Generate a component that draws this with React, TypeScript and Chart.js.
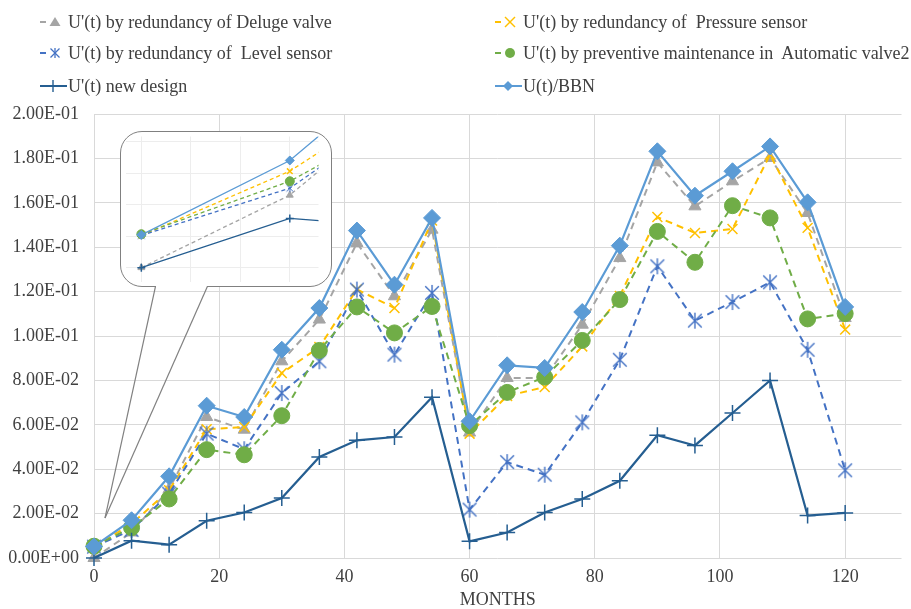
import React, { useEffect, useRef } from 'react';
import { Chart, registerables } from 'chart.js';
Chart.register(...registerables);

const months = [0, 6, 12, 18, 24, 30, 36, 42, 48, 54, 60, 66, 72, 78, 84, 90, 96, 102, 108, 114, 120];
const delugeValve = [0.0, 0.0115, 0.031, 0.0635, 0.0578, 0.0886, 0.1074, 0.1419, 0.1179, 0.1479, 0.0565, 0.0811, 0.081, 0.1051, 0.1351, 0.1782, 0.1584, 0.1697, 0.1802, 0.1554, 0.1081];
const pressureSensor = [0.0051, 0.0153, 0.0305, 0.058, 0.059, 0.0833, 0.095, 0.121, 0.1126, 0.152, 0.056, 0.073, 0.077, 0.0953, 0.118, 0.1536, 0.1464, 0.1482, 0.1817, 0.1487, 0.1029];
const levelSensor = [0.0051, 0.0126, 0.029, 0.056, 0.049, 0.0743, 0.0886, 0.1209, 0.0916, 0.1194, 0.0218, 0.0432, 0.0375, 0.0611, 0.0893, 0.1314, 0.1069, 0.1153, 0.1242, 0.0938, 0.0395];
const automaticValve2 = [0.0053, 0.0137, 0.0266, 0.0488, 0.0465, 0.0641, 0.0935, 0.1131, 0.1014, 0.1133, 0.0596, 0.0746, 0.0815, 0.098, 0.1164, 0.1471, 0.1332, 0.1587, 0.1532, 0.1077, 0.1101];
const newDesign = [0.0, 0.0078, 0.006, 0.0168, 0.0205, 0.027, 0.0455, 0.053, 0.0545, 0.0724, 0.0075, 0.0115, 0.0205, 0.0266, 0.0348, 0.0553, 0.0507, 0.0653, 0.08, 0.0191, 0.0203];
const bbn = [0.0052, 0.017, 0.0368, 0.0686, 0.0635, 0.0938, 0.1126, 0.1475, 0.1231, 0.1532, 0.0616, 0.0868, 0.0856, 0.1108, 0.1407, 0.1832, 0.1632, 0.1742, 0.1854, 0.1602, 0.1131];

const xTicks = [0, 20, 40, 60, 80, 100, 120];
const yTicks = [0, 0.02, 0.04, 0.06, 0.08, 0.1, 0.12, 0.14, 0.16, 0.18, 0.2];
const insetXTicks = [0, 2, 4, 6];
const insetYTicks = [0, 0.005, 0.01, 0.015, 0.02];

const seriesLabels = [
  "U'(t) by redundancy of Deluge valve",
  "U'(t) by redundancy of  Pressure sensor",
  "U'(t) by redundancy of  Level sensor",
  "U'(t) by preventive maintenance in  Automatic valve2",
  "U'(t) new design",
  "U(t)/BBN",
];
const seriesData = [delugeValve, pressureSensor, levelSensor, automaticValve2, newDesign, bbn];

type Style = { color: string; dashed: boolean; point: string; r: number; ir: number; filled: boolean };
const STYLES: Style[] = [
  { color: '#A5A5A5', dashed: true, point: 'triangle', r: 7, ir: 4, filled: true },
  { color: '#FFC000', dashed: true, point: 'crossRot', r: 7, ir: 4, filled: false },
  { color: '#4472C4', dashed: true, point: 'asterisk', r: 8, ir: 4, filled: false },
  { color: '#70AD47', dashed: true, point: 'circle', r: 8, ir: 4.5, filled: true },
  { color: '#255E91', dashed: false, point: 'cross', r: 8, ir: 4, filled: false },
  { color: '#5B9BD5', dashed: false, point: 'rectRot', r: 8.5, ir: 4.5, filled: true },
];

const FONT = "'Liberation Serif', 'Times New Roman', serif";
const TEXT = '#404040';

function fmtExp(v: number): string {
  if (Math.abs(v) < 1e-12) return '0.00E+00';
  let e = Math.floor(Math.log10(Math.abs(v)) + 1e-9);
  let m = v / Math.pow(10, e);
  let s = m.toFixed(2);
  if (s === '10.00') { e += 1; s = '1.00'; }
  return s + 'E' + (e < 0 ? '-' : '+') + String(Math.abs(e)).padStart(2, '0');
}

function asteriskImage(r: number, color: string, lw: number): HTMLCanvasElement {
  const size = Math.ceil(2 * r + 4);
  const c = document.createElement('canvas');
  c.width = size; c.height = size;
  const ctx = c.getContext('2d')!;
  const m = size / 2;
  const d = r * 0.85;
  ctx.strokeStyle = color;
  ctx.lineWidth = lw;
  ctx.beginPath();
  ctx.moveTo(m - d, m - d); ctx.lineTo(m + d, m + d);
  ctx.moveTo(m - d, m + d); ctx.lineTo(m + d, m - d);
  ctx.moveTo(m, m - r); ctx.lineTo(m, m + r);
  ctx.stroke();
  return c;
}

function makeDatasets(inset: boolean) {
  return seriesData.map((arr, i) => {
    const st = STYLES[i];
    const r = inset ? st.ir : st.r;
    const ps = st.point === 'asterisk' ? asteriskImage(r, st.color, inset ? 1 : 1.4) : st.point;
    return {
      label: seriesLabels[i],
      data: months.map((m, j) => ({ x: m, y: arr[j] })),
      borderColor: st.color,
      backgroundColor: st.color,
      borderWidth: inset ? 1.3 : (st.dashed ? 2 : 2.2),
      borderDash: st.dashed ? (inset ? [4, 3] : [7, 5]) : [],
      pointStyle: ps,
      pointRadius: r,
      pointBorderWidth: st.filled ? 1 : 1.5,
      pointBackgroundColor: st.color,
      pointBorderColor: st.color,
      tension: 0,
      order: 5 - i,
      clip: inset ? undefined : false,
    } as any;
  });
}

function MainChart() {
  const ref = useRef<HTMLCanvasElement>(null);
  useEffect(() => {
    const chart = new Chart(ref.current!, {
      type: 'line',
      data: { datasets: makeDatasets(false) },
      options: {
        animation: false,
        responsive: false,
        devicePixelRatio: 1,
        layout: { padding: { top: 114, right: 0, left: 0, bottom: 0 } },
        plugins: { legend: { display: false }, tooltip: { enabled: false } },
        scales: {
          x: {
            type: 'linear',
            min: 0,
            max: 129,
            afterBuildTicks: (s: any) => { s.ticks = xTicks.map((v) => ({ value: v })); },
            afterFit: (s: any) => { s.height = 51; },
            grid: { color: '#D9D9D9', lineWidth: 1, drawTicks: false },
            border: { display: false },
            ticks: { padding: 8, color: TEXT, font: { family: FONT, size: 18 }, maxRotation: 0 },
            title: { display: true, text: 'MONTHS', color: TEXT, font: { family: FONT, size: 18, lineHeight: 1 }, padding: { top: 0, bottom: 0 } },
          },
          y: {
            type: 'linear',
            min: 0,
            max: 0.2,
            afterBuildTicks: (s: any) => { s.ticks = yTicks.map((v) => ({ value: v })); },
            afterFit: (s: any) => { s.width = 94; },
            grid: { color: '#D9D9D9', lineWidth: 1, drawTicks: false },
            border: { display: false },
            ticks: { padding: 15, color: TEXT, font: { family: FONT, size: 18 }, callback: (v: any) => fmtExp(Number(v)) },
          },
        },
      },
    });
    return () => chart.destroy();
  }, []);
  return <canvas ref={ref} width={911} height={609} style={{ position: 'absolute', left: 0, top: 0 }} />;
}

function InsetChart() {
  const ref = useRef<HTMLCanvasElement>(null);
  useEffect(() => {
    const chart = new Chart(ref.current!, {
      type: 'line',
      data: { datasets: makeDatasets(true) },
      options: {
        animation: false,
        responsive: false,
        devicePixelRatio: 1,
        layout: { padding: 0 },
        plugins: { legend: { display: false }, tooltip: { enabled: false } },
        scales: {
          x: {
            type: 'linear',
            min: -0.64,
            max: 7.16,
            afterBuildTicks: (s: any) => { s.ticks = insetXTicks.map((v) => ({ value: v })); },
            afterFit: (s: any) => { s.height = 0; },
            grid: { color: '#EDEDED', drawTicks: false },
            border: { display: false },
            ticks: { display: false },
          },
          y: {
            type: 'linear',
            min: -0.0022,
            max: 0.0208,
            afterBuildTicks: (s: any) => { s.ticks = insetYTicks.map((v) => ({ value: v })); },
            afterFit: (s: any) => { s.width = 0; },
            grid: { color: '#EDEDED', drawTicks: false },
            border: { display: false },
            ticks: { display: false },
          },
        },
      },
    });
    return () => chart.destroy();
  }, []);
  return <canvas ref={ref} width={204} height={156} style={{ position: 'absolute', left: 0, top: 0 }} />;
}

function Marker({ st }: { st: Style }) {
  const c = st.color;
  const cx = st.dashed ? 15 : 13;
  const cy = 10;
  let shape: any = null;
  if (st.point === 'triangle') shape = <polygon points={`${cx},${cy - 5} ${cx + 5.5},${cy + 4} ${cx - 5.5},${cy + 4}`} fill={c} />;
  else if (st.point === 'circle') shape = <circle cx={cx} cy={cy} r={5} fill={c} />;
  else if (st.point === 'rectRot') shape = <polygon points={`${cx},${cy - 5} ${cx + 5},${cy} ${cx},${cy + 5} ${cx - 5},${cy}`} fill={c} />;
  else if (st.point === 'crossRot') shape = <g stroke={c} strokeWidth={1.4}><line x1={cx - 5} y1={cy - 5} x2={cx + 5} y2={cy + 5} /><line x1={cx - 5} y1={cy + 5} x2={cx + 5} y2={cy - 5} /></g>;
  else if (st.point === 'asterisk') shape = <g stroke={c} strokeWidth={1.3}><line x1={cx - 4.5} y1={cy - 4.5} x2={cx + 4.5} y2={cy + 4.5} /><line x1={cx - 4.5} y1={cy + 4.5} x2={cx + 4.5} y2={cy - 4.5} /><line x1={cx} y1={cy - 5} x2={cx} y2={cy + 5} /></g>;
  else if (st.point === 'cross') shape = <g stroke={c} strokeWidth={1.4}><line x1={cx} y1={cy - 6} x2={cx} y2={cy + 6} /></g>;
  return (
    <svg width={28} height={20} style={{ position: 'absolute', left: 0, top: 0 }}>
      {st.dashed
        ? <line x1={0} y1={cy} x2={6} y2={cy} stroke={c} strokeWidth={2} />
        : <line x1={0} y1={cy} x2={27} y2={cy} stroke={c} strokeWidth={2} />}
      {shape}
    </svg>
  );
}

function Legend() {
  const colX = [40, 495];
  const rowY = [21.7, 53.3, 86];
  return (
    <>
      {seriesLabels.map((lab, i) => {
        const col = i % 2;
        const row = Math.floor(i / 2);
        return (
          <div key={i} style={{ position: 'absolute', left: colX[col], top: rowY[row] - 10, height: 20, width: 430 }}>
            <Marker st={STYLES[i]} />
            <span style={{ position: 'absolute', left: 28, top: 0, lineHeight: '20px', fontFamily: FONT, fontSize: 18, color: TEXT, whiteSpace: 'pre' }}>{lab}</span>
          </div>
        );
      })}
    </>
  );
}

export default function App() {
  return (
    <div style={{ position: 'absolute', left: 0, top: 0, width: 911, height: 609, background: '#fff', overflow: 'hidden' }}>
      <MainChart />
      <Legend />
      <div style={{ position: 'absolute', left: 120, top: 131, width: 212, height: 156, borderRadius: 22, overflow: 'hidden', background: '#fff' }}>
        <InsetChart />
      </div>
      <div style={{ position: 'absolute', left: 120, top: 131, width: 212, height: 156, borderRadius: 22, border: '1.3px solid #808080', boxSizing: 'border-box' }} />
      <div style={{ position: 'absolute', left: 156, top: 284, width: 51, height: 4, background: '#fff' }} />
      <svg width={911} height={609} style={{ position: 'absolute', left: 0, top: 0, pointerEvents: 'none' }}>
        <line x1={155.5} y1={286.3} x2={105} y2={518} stroke="#808080" strokeWidth={1.2} />
        <line x1={207.5} y1={286.3} x2={105} y2={518} stroke="#808080" strokeWidth={1.2} />
      </svg>
    </div>
  );
}
